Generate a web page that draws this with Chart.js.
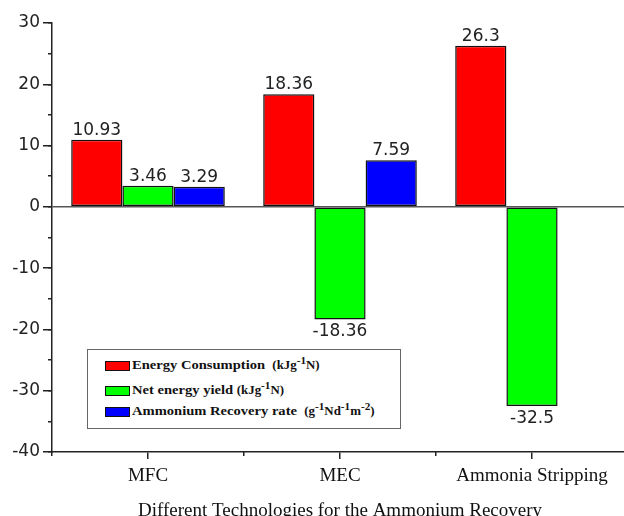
<!DOCTYPE html>
<html>
<head>
<meta charset="utf-8">
<script src="https://cdn.jsdelivr.net/npm/chart.js@4.4.1/dist/chart.umd.min.js"></script>
<style>
  html, body { margin: 0; padding: 0; background: #fff; overflow: hidden; }
  #marco { position: relative; width: 624px; height: 516px; overflow: hidden; }
  #caja { position: absolute; left: 0; top: 0; width: 630px; height: 524px; }
  #leyenda {
    position: absolute; left: 87px; top: 349px; width: 314px; height: 80px;
    box-sizing: border-box; border: 1px solid #666; background: #fff;
  }
  .muestra {
    position: absolute; left: 17px; width: 25px; height: 10px;
    box-sizing: border-box; border: 1.5px solid #111;
  }
  .texto {
    position: absolute; left: 43.5px; height: 18px; line-height: 18px;
    white-space: nowrap; transform: scaleX(1.12); transform-origin: left center;
    font: bold 13px "Liberation Serif", "Times New Roman", serif; color: #111;
  }
  .texto .unidad { font-size: 11.5px; }
  .texto sup { font-size: 10px; line-height: 0; }
</style>
</head>
<body>
<div id="marco">
  <div id="caja"><canvas id="grafico"></canvas></div>
  <div id="leyenda"></div>
</div>
<script>
/* ===================== DATOS ===================== */

const categorias = ["MFC", "MEC", "Ammonia Stripping"];

const energiaConsumo = [10.93, 18.36, 26.3];
const rendimientoNeto = [3.46, -18.36, -32.5];
const tasaRecuperacion = [3.29, 7.59, null];

const nombresSeries = ["Energy Consumption", "Net energy yield", "Ammonium Recovery rate"];
const unidadesSeries = [
  "&nbsp;&nbsp;<span class='unidad'>(kJg<sup>-1</sup>N)</span>",
  "&nbsp;<span class='unidad'>(kJg<sup>-1</sup>N)</span>",
  "&nbsp;&nbsp;<span class='unidad'>(g<sup>-1</sup>Nd<sup>-1</sup>m<sup>-2</sup>)</span>"
];
const coloresSeries = ["#ff0000", "#00ff00", "#0000ff"];

const Y_MIN = -40;
const Y_MAX = 30;
const Y_PASO = 10;
const Y_PASO_MENOR = 5;

const tituloX = "Different Technologies for the Ammonium Recovery";

/* ===================== ESTILOS ===================== */

const FUENTE_SERIF = '"Liberation Serif", "Times New Roman", serif';
const FUENTE_SANS = '"DejaVu Sans", sans-serif';
const COLOR_EJE = "#222";

/* ===================== ETIQUETAS DE VALOR ===================== */

const etiquetasValores = {
  id: "etiquetasValores",
  afterDatasetsDraw(chart) {
    const { ctx } = chart;
    ctx.save();
    ctx.font = "17px " + FUENTE_SANS;
    ctx.fillStyle = "#222";
    ctx.textAlign = "center";
    ctx.textBaseline = "alphabetic";
    chart.data.datasets.forEach((ds, i) => {
      chart.getDatasetMeta(i).data.forEach((barra, j) => {
        const v = ds.data[j];
        if (v == null) return;
        const y = v >= 0 ? barra.y - 5 : barra.y + 17;
        ctx.fillText(String(v), barra.x, y);
      });
    });
    ctx.restore();
  }
};

/* ===================== GRÁFICO ===================== */

const series = [energiaConsumo, rendimientoNeto, tasaRecuperacion];

const chart = new Chart(document.getElementById("grafico"), {
  type: "bar",
  data: {
    labels: categorias,
    datasets: series.map((valores, i) => ({
      label: nombresSeries[i],
      data: valores,
      backgroundColor: coloresSeries[i]
    }))
  },
  options: {
    responsive: true,
    maintainAspectRatio: false,
    animation: false,
    layout: { padding: { top: 23, right: 2, left: 0, bottom: 0 } },
    datasets: {
      bar: {
        categoryPercentage: 0.8,
        barPercentage: 1,
        borderColor: "#111",
        borderWidth: 1.5,
        borderSkipped: false
      }
    },
    plugins: { legend: { display: false }, tooltip: { enabled: false } },
    scales: {
      x: {
        type: "category",
        position: "bottom",
        weight: 1,
        offset: true,
        grid: { offset: false, drawOnChartArea: false, tickLength: 7, color: COLOR_EJE, lineWidth: 1.5 },
        border: { display: true, color: COLOR_EJE, width: 1.5 },
        ticks: {
          color: "#111",
          font: { family: FUENTE_SERIF, size: 19 },
          padding: 6,
          maxRotation: 0,
          autoSkip: false
        },
        title: {
          display: true,
          text: tituloX,
          color: "#111",
          font: { family: FUENTE_SERIF, size: 19 },
          padding: { top: 0, bottom: 2 }
        },
        afterFit(s) { s.height = 72; }
      },
      x2: {
        type: "category",
        axis: "x",
        position: "bottom",
        weight: 0,
        offset: true,
        grid: { offset: true, drawOnChartArea: false, tickLength: 4, color: COLOR_EJE, lineWidth: 1.5 },
        border: { display: false },
        ticks: { display: false },
        afterFit(s) { s.height = 0; }
      },
      y: {
        type: "linear",
        position: "left",
        weight: 1,
        min: Y_MIN,
        max: Y_MAX,
        ticks: {
          stepSize: Y_PASO,
          color: "#222",
          font: { family: FUENTE_SANS, size: 17 },
          padding: 3
        },
        grid: {
          drawOnChartArea: true,
          color: c => (c.tick && c.tick.value === 0 ? "#555" : "rgba(0,0,0,0)"),
          lineWidth: 1.5,
          tickColor: COLOR_EJE,
          tickWidth: 1.5,
          tickLength: 9
        },
        border: { display: true, color: COLOR_EJE, width: 1.5 },
        afterFit(s) { s.width = 52; }
      },
      y2: {
        type: "linear",
        axis: "y",
        position: "left",
        weight: 0,
        min: Y_MIN,
        max: Y_MAX,
        ticks: { display: false, stepSize: Y_PASO_MENOR },
        grid: { drawOnChartArea: false, tickLength: 4, color: COLOR_EJE, lineWidth: 1.5 },
        border: { display: false },
        afterFit(s) { s.width = 0; }
      }
    }
  },
  plugins: [etiquetasValores]
});

/* ===================== LEYENDA ===================== */

const centrosFilas = [16, 40.5, 61.5];
const leyenda = document.getElementById("leyenda");
leyenda.innerHTML = chart.data.datasets.map((ds, i) => `
  <div class="muestra" style="top:${centrosFilas[i] - 5}px;background:${ds.backgroundColor}"></div>
  <div class="texto" style="top:${centrosFilas[i] - 9}px">${ds.label}${unidadesSeries[i]}</div>`
).join("");
</script>
</body>
</html>
